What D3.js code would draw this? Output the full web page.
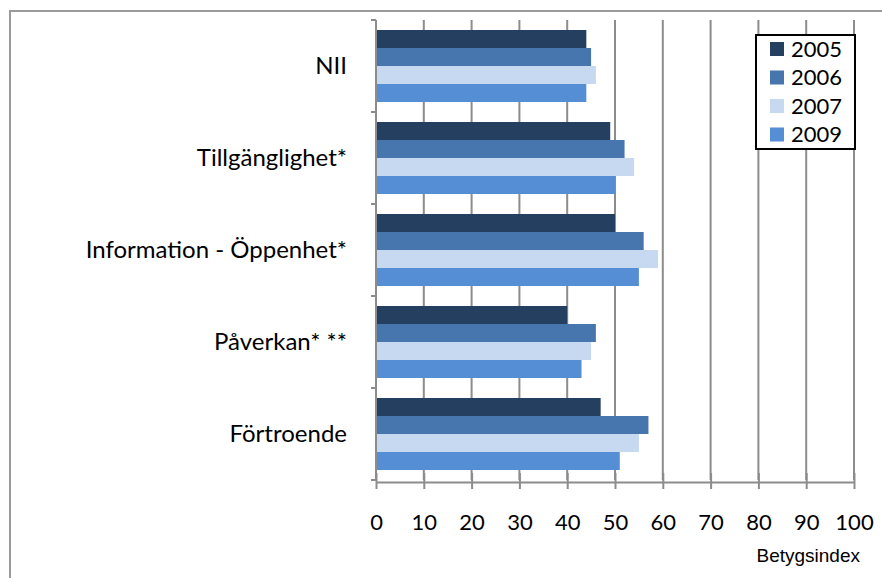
<!DOCTYPE html>
<html>
<head>
<meta charset="utf-8">
<script src="https://cdn.jsdelivr.net/npm/d3@7"></script>
<style>
  body { margin: 0; background: #fff; }
  text { font-family: Lato, "Open Sans", sans-serif; fill: #000; }
</style>
</head>
<body>
<div id="chart"></div>
<script>
// Data
const categories = ["NII", "Tillgänglighet*", "Information - Öppenhet*", "Påverkan* **", "Förtroende"];
const years = ["2005", "2006", "2007", "2009"];
const values2005 = [44, 49, 50, 40, 47];
const values2006 = [45, 52, 56, 46, 57];
const values2007 = [46, 54, 59, 45, 55];
const values2009 = [44, 50, 55, 43, 51];
const xTicks = [0, 10, 20, 30, 40, 50, 60, 70, 80, 90, 100];
const colors = ["#243f60", "#4775ae", "#c6d9f0", "#558ed5"];

const series = [values2005, values2006, values2007, values2009];

const W = 882, H = 578;
const margin = {top: 20, right: 28, bottom: 98, left: 376};
const width = W - margin.left - margin.right;
const height = H - margin.top - margin.bottom;

const svg = d3.select("#chart").append("svg")
    .attr("width", W)
    .attr("height", H);

// outer chart border (only left and top visible)
svg.append("rect")
    .attr("x", 10).attr("y", 11)
    .attr("width", W + 20).attr("height", H + 20)
    .attr("fill", "none")
    .attr("stroke", "#9a9a9a")
    .attr("stroke-width", 2);

const g = svg.append("g")
    .attr("transform", `translate(${margin.left},${margin.top})`);

const x = d3.scaleLinear().domain([0, 100]).range([0, width]);
const y0 = d3.scaleBand().domain(categories).range([0, height]).paddingInner(20 / 92).paddingOuter(10 / 92);
const y1 = d3.scaleBand().domain(years).range([0, y0.bandwidth()]);

// grid lines
g.append("g")
    .selectAll("line")
    .data(xTicks.slice(1))
    .join("line")
    .attr("x1", d => x(d)).attr("x2", d => x(d))
    .attr("y1", 0).attr("y2", height)
    .attr("stroke", "#8c8c8c")
    .attr("stroke-width", 2);

// bars
const groups = g.append("g")
    .selectAll("g")
    .data(categories)
    .join("g")
    .attr("transform", d => `translate(0,${y0(d)})`);

groups.selectAll("rect")
    .data((c, i) => years.map((yr, j) => ({year: yr, value: series[j][i], color: colors[j]})))
    .join("rect")
    .attr("x", x(0))
    .attr("y", d => y1(d.year))
    .attr("width", d => x(d.value) - x(0))
    .attr("height", y1.bandwidth())
    .attr("fill", d => d.color);

// y axis line and category ticks
const yAxisG = g.append("g");
yAxisG.append("line")
    .attr("x1", 0).attr("x2", 0)
    .attr("y1", 0).attr("y2", height)
    .attr("stroke", "#8c8c8c")
    .attr("stroke-width", 2);

const step = height / categories.length;
yAxisG.selectAll("line.tk")
    .data(d3.range(categories.length + 1))
    .join("line")
    .attr("class", "tk")
    .attr("x1", -5).attr("x2", 0)
    .attr("y1", d => d * step).attr("y2", d => d * step)
    .attr("stroke", "#8c8c8c")
    .attr("stroke-width", 2);

yAxisG.selectAll("text")
    .data(categories)
    .join("text")
    .attr("x", -29)
    .attr("y", d => y0(d) + y0.bandwidth() / 2)
    .attr("dy", "0.35em")
    .attr("text-anchor", "end")
    .style("font-size", "24px")
    .text(d => d);

// x axis
const xAxis = g.append("g")
    .attr("transform", `translate(0,${height + 2})`)
    .call(d3.axisBottom(x).tickValues(xTicks).tickSize(0).tickPadding(0).tickFormat(d3.format("d")));
xAxis.select(".domain")
    .attr("stroke", "#8c8c8c")
    .attr("stroke-width", 2);
xAxis.selectAll(".tick line").remove();
xAxis.selectAll(".tick")
    .append("line")
    .attr("y1", -9).attr("y2", 7)
    .attr("stroke", "#8c8c8c")
    .attr("stroke-width", 2);
xAxis.selectAll(".tick text")
    .attr("y", 40)
    .attr("dy", "0.35em")
    .style("font-size", "22px")
    .style("font-family", "Lato, sans-serif")
    .attr("fill", "#000");

svg.append("text")
    .attr("x", 860)
    .attr("y", 555)
    .attr("dy", "0.35em")
    .attr("text-anchor", "end")
    .style("font-size", "19px")
    .style("font-family", "Liberation Sans, Arial, sans-serif")
    .text("Betygsindex");

// Legend
const legend = svg.append("g")
    .attr("transform", "translate(756,35)");
legend.append("rect")
    .attr("width", 99).attr("height", 114)
    .attr("fill", "#fff")
    .attr("stroke", "#000")
    .attr("stroke-width", 2);

years.forEach(function(yr, i) {
    const row = legend.append("g")
        .attr("transform", `translate(0,${14 + i * 28.5})`);
    row.append("rect")
        .attr("x", 14).attr("y", -7)
        .attr("width", 14).attr("height", 14)
        .attr("fill", colors[i]);
    row.append("text")
        .attr("x", 35)
        .attr("dy", "0.35em")
        .style("font-size", "22px")
        .text(yr);
});
</script>
</body>
</html>
